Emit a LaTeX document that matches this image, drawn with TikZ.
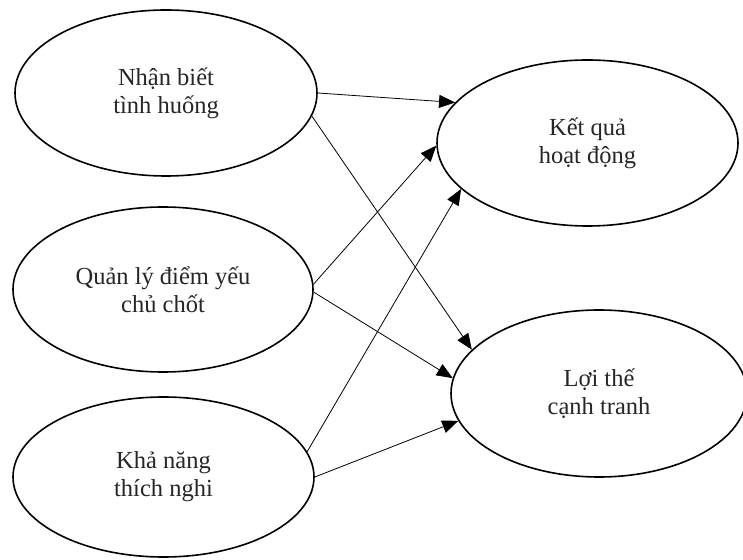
\documentclass[tikz,border=0pt]{standalone}
\usepackage{fontspec}
\setmainfont{Liberation Serif}
\usetikzlibrary{shapes.geometric,arrows.meta}
\begin{document}
\begin{tikzpicture}[x=1pt,y=1pt,
  oval/.style={ellipse,draw,line width=1.6pt,inner sep=0pt,align=center,
    text=black!85,font=\fontsize{24.5}{28}\selectfont},
  conn/.style={line width=0.8pt,-{Triangle[length=16pt,width=13pt]}}]
\useasboundingbox (0,0) rectangle (743,559);
\node[oval,minimum width=302pt,minimum height=166pt] (e1) at (166,466) {Nhận biết\\tình huống};
\node[oval,minimum width=300pt,minimum height=165pt] (e2) at (163,269.5) {Quản lý điểm yếu\\chủ chốt};
\node[oval,minimum width=301pt,minimum height=160pt] (e3) at (163.5,82) {Khả năng\\thích nghi};
\node[oval,minimum width=301pt,minimum height=166pt] (e4) at (587.5,416) {Kết quả\\hoạt động};
\node[oval,minimum width=296pt,minimum height=167pt] (e5) at (599,165.5) {Lợi thế\\cạnh tranh};
\draw[conn] (e1.0) -- (e4.163);
\draw[conn] (e1.-9) -- (e5.161);
\draw[conn] (e2.2) -- (e4.181);
\draw[conn] (e2.-1) -- (e5.174);
\draw[conn] (e3.10) -- (e4.200);
\draw[conn] (e3.0) -- (e5.191);
\end{tikzpicture}
\end{document}
